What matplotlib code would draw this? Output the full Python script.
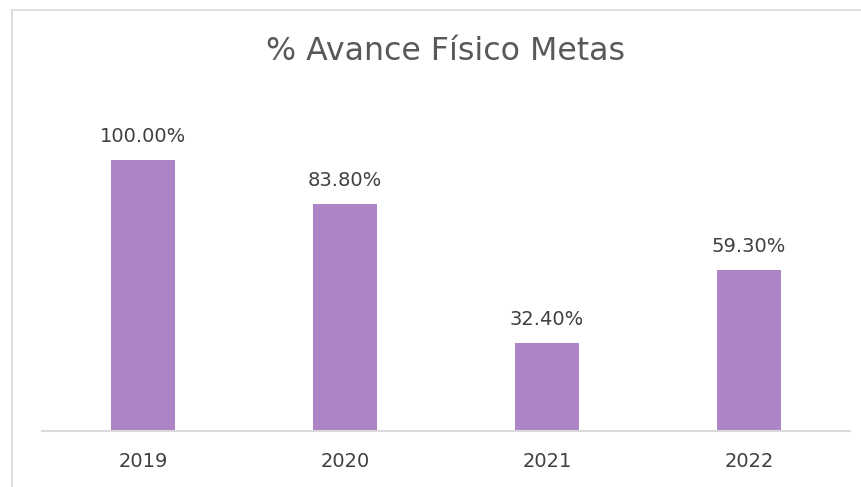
import matplotlib.pyplot as plt
from matplotlib.lines import Line2D

years = ['2019', '2020', '2021', '2022']
avance = [100.00, 83.80, 32.40, 59.30]

plt.rcParams['font.family'] = ['DejaVu Sans']

fig = plt.figure(figsize=(8.61, 4.87), dpi=100)
ax = fig.add_axes([42 / 861, 56 / 487, 808 / 861, 325 / 487])

x = range(len(years))
bars = ax.bar(x, avance, width=0.315, color='#AD84C6')
ax.set_xlim(-0.5, 3.5)
ax.set_ylim(0, 120)

for b, v in zip(bars, avance):
    ax.annotate(f'{v:.2f}%', (b.get_x() + b.get_width() / 2, v),
                xytext=(0, 17), textcoords='offset points',
                ha='center', va='center', fontsize=14, color='#404040')

ax.set_xticks(list(x))
ax.set_xticklabels(years, fontsize=14, color='#404040')
ax.tick_params(axis='x', length=0, pad=15)
ax.set_yticks([])
for s in ['top', 'right', 'left']:
    ax.spines[s].set_visible(False)
ax.spines['bottom'].set_color('#D9D9D9')
ax.spines['bottom'].set_linewidth(1.5)

fig.text(446 / 861, 1 - 51 / 487, '% Avance Físico Metas', ha='center', va='center',
         fontsize=22.8, color='#595959')

# marco del gráfico (recortado a la derecha y abajo)
fig.add_artist(Line2D([12 / 861, 12 / 861], [0, 1 - 10 / 487], color='#D9D9D9', lw=1.2))
fig.add_artist(Line2D([12 / 861, 1], [1 - 10 / 487, 1 - 10 / 487], color='#D9D9D9', lw=1.2))

fig.savefig('out.png', dpi=100)
